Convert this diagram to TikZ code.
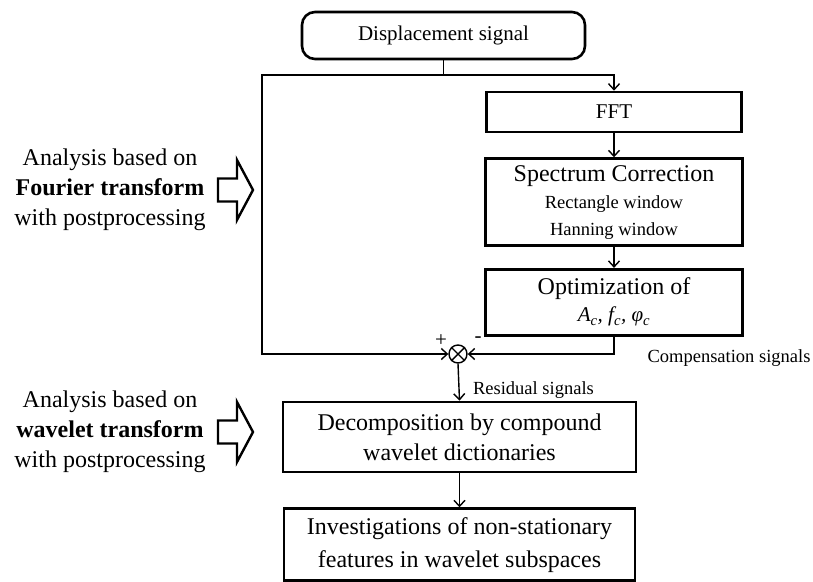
\documentclass[tikz,border=0pt]{standalone}
\usepackage{fontspec}
\setmainfont{Liberation Serif}
\usetikzlibrary{arrows.meta,positioning}
\newcommand{\fbig}{\fontsize{24}{30}\selectfont}
\newcommand{\fmid}{\fontsize{21}{26}\selectfont}
\newcommand{\fsml}{\fontsize{18.5}{27}\selectfont}
\newcommand{\sub}[1]{\textsubscript{\itshape #1}}

\begin{document}
\begin{tikzpicture}[x=1pt,y=1pt,>={Straight Barb[length=6pt,width=11pt]},
  box/.style={draw,line width=2.6pt,align=center,inner sep=0pt},
  link/.style={line width=1.4pt},
  hollow/.style={draw,line width=2.4pt,line join=miter}]
\useasboundingbox (0,0) rectangle (813,-581);
\node[box,rounded corners=13pt,minimum width=283pt,minimum height=47pt,font=\fmid] (disp) at (443.5,-35.5) {Displacement signal};
\node[box,minimum width=255pt,minimum height=40pt,font=\fmid] (fft) at (614,-112) {FFT};
\node[box,minimum width=257pt,minimum height=87pt,font=\fsml,below=24pt of fft] (spec) {{\fbig Spectrum Correction}\\Rectangle window\\Hanning window};
\node[box,minimum width=257pt,minimum height=66pt,font=\fbig,below=21pt of spec] (opt) {Optimization of\\[-3pt]{\fmid\itshape A\sub{c}, f\sub{c}, φ\sub{c}}};
\node[circle,draw,link,minimum size=18pt,inner sep=0pt] (mix) at (458,-354) {};
\draw[link] (mix.north west) -- (mix.south east) (mix.north east) -- (mix.south west);
\node[box,minimum width=353pt,minimum height=70pt,font=\fbig] (decomp) at (459.5,-437) {Decomposition by compound\\wavelet dictionaries};
\node[box,minimum width=351pt,minimum height=72pt,font=\fbig,below=34pt of decomp] (invest) {Investigations of non-stationary\\[3pt]features in wavelet subspaces};
% left side notes
\node[font=\fbig,align=center] (fourier) at (110,-190) {Analysis based on\\\textbf{Fourier transform}\\with postprocessing};
\node[font=\fbig,align=center] (wavelet) at (110,-432) {Analysis based on\\\textbf{wavelet transform}\\with postprocessing};
\foreach \y in {-190,-432}{
  \draw[hollow] (218,\y+11.5) -- (237,\y+11.5) -- (237,\y+30) -- (253,\y) -- (237,\y-30) -- (237,\y-11.5) -- (218,\y-11.5) -- cycle;}
% connectors
\coordinate (split) at (443.5,-75);
\coordinate (lcorner) at (262,-75);
\draw[link] (disp.south) -- (split);
\draw[link,->] (split) -| (fft.north);
\draw[link,->] (fft) -- (spec);
\draw[link,->] (spec) -- (opt);
\draw[link,->] (split) -- (lcorner) |- (mix.west);
\draw[link,->] (opt.south) |- (mix.east);
\draw[link,->] (mix.south) -- node[right=10pt,pos=0.7,font=\fsml] (resid) {Residual signals} (decomp.north);
\draw[link,->] (decomp.south) -- (invest.north);
\node[font=\fmid] (plus) at (441,-341) {+};
\node[font=\fmid] (minus) at (478,-340) {-};
\node[font=\fsml] (comp) at (729,-358) {Compensation signals};
\end{tikzpicture}
\end{document}
